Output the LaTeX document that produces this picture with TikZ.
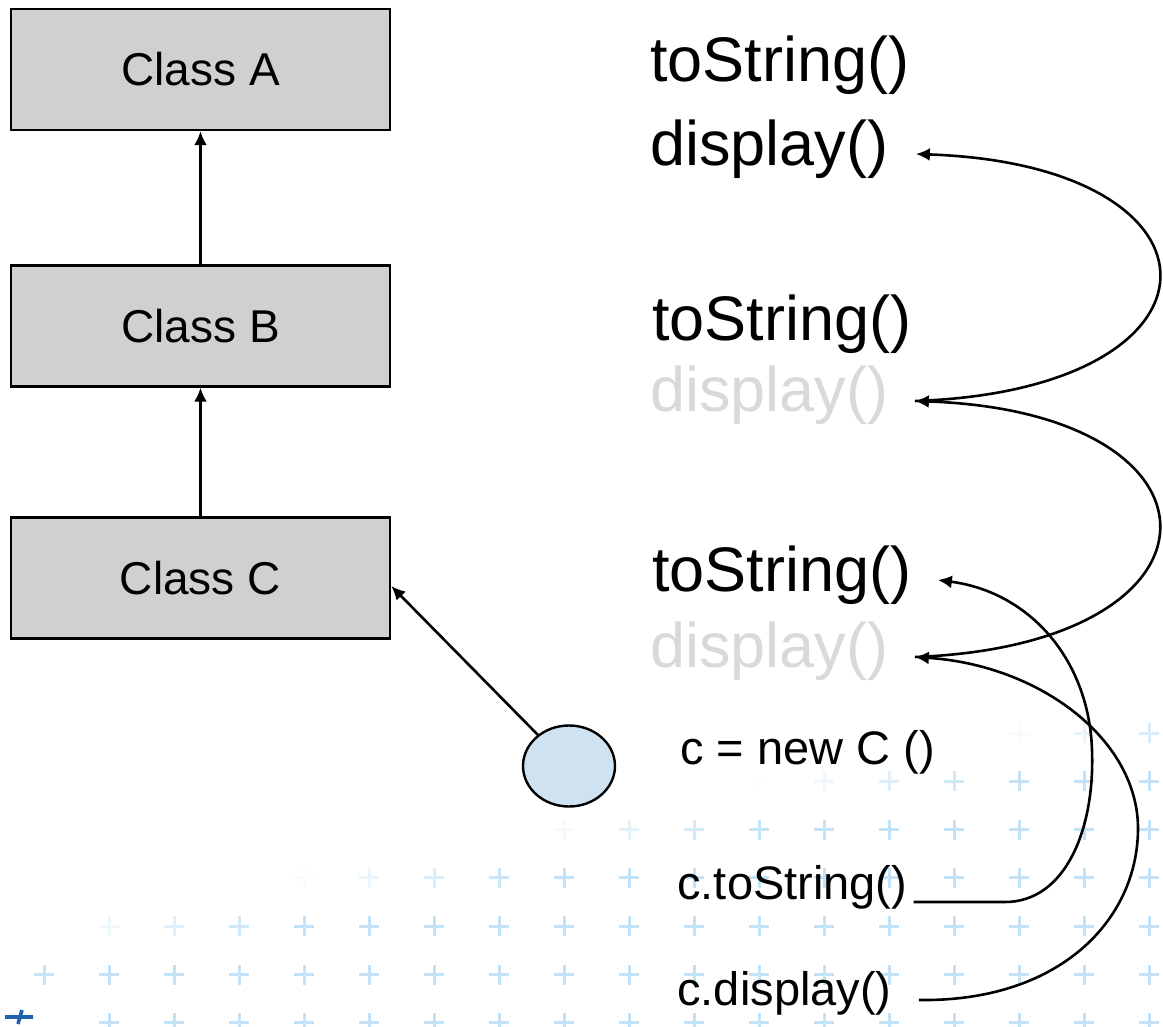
\documentclass[tikz,border=0pt]{standalone}
\usepackage{fontspec}
\setmainfont{Liberation Sans}
\usetikzlibrary{arrows.meta,shapes.geometric}
\definecolor{boxgray}{HTML}{D0D0D0}
\definecolor{objblue}{HTML}{CFE2F1}
\definecolor{fadegray}{HTML}{D9D9D9}
\definecolor{gridblue}{HTML}{C2E3F7}
\definecolor{markblue}{HTML}{1F62AE}
\begin{document}
\begin{tikzpicture}[x=0.5pt,y=-0.5pt,
  classbox/.style={draw=black, line width=1.2pt, fill=boxgray,
    minimum width=189.5pt, minimum height=60.5pt, inner sep=0pt,
    font=\fontsize{23}{27}\selectfont},
  method/.style={anchor=west, inner sep=0pt, text height=0.75em, text depth=0.21em,
    font=\fontsize{31.5}{36}\selectfont},
  call/.style={anchor=west, inner sep=0pt, text height=0.75em, text depth=0.21em,
    font=\fontsize{23.5}{28}\selectfont},
  link/.style={line width=1.3pt, -{Latex[length=7pt,width=6.5pt]}}]

\useasboundingbox (0,0) rectangle (1163,1027);
\fill[white] (0,0) rectangle (1163,1027);

% faded grid of light crosses in the lower right
\foreach \r in {0,...,6}{
  \foreach \c in {0,...,17}{
    \pgfmathsetmacro{\px}{44+65*\c}
    \pgfmathsetmacro{\py}{733+48.3*\r}
    \pgfmathsetmacro{\al}{and(\r==6,\c==0) ? 0 : max(0,min(1,(\px-515+4.9*(\py-830))/250))}
    \ifdim\al pt>0.01pt
      \draw[gridblue, line width=1.5pt, opacity=\al]
        (\px-10,\py) -- (\px+10,\py) (\px,\py-10) -- (\px,\py+10);
    \fi
  }
}
\draw[markblue, line width=1.8pt] (5,1017) -- (33,1017) (22,1010) -- (18,1024);

% class hierarchy
\node[classbox] (A) at (200.5,69.5) {Class A};
\node[classbox] (B) at (200.5,326) {Class B};
\node[classbox] (C) at (200.5,578) {Class C};
\node[ellipse, draw=black, line width=1.2pt, fill=objblue,
  minimum width=46pt, minimum height=40.5pt, inner sep=0pt] (obj) at (569,766) {};

\draw[link] (B.north) -- (A.south);
\draw[link] (C.north) -- (B.south);
\draw[link] (obj.135) -- ([yshift=-4pt]C.east);

% methods per class
\node[method] (ta) at (650,76) {toString()};
\node[method] (da) at (650,160) {display()};
\node[method] (tb) at (652,335) {toString()};
\node[method, text=fadegray] (db) at (650,406) {display()};
\node[method] (tc) at (652,586) {toString()};
\node[method, text=fadegray] (dc) at (650,662) {display()};

% calls on the object
\node[call] (new) at (680,759) {c = new C ()};
\node[call] (cts) at (677,894) {c.toString()};
\node[call] (cdi) at (677,1000) {c.display()};

% lookup chains
\draw[link] ([xshift=13pt,yshift=2.5pt]db.east) .. controls (1240,390) and (1240,165) .. ([xshift=13.5pt,yshift=3pt]da.east);
\draw[link] ([xshift=13pt,yshift=2.5pt]dc.east) .. controls (1240,645) and (1240,412) .. ([xshift=13pt,yshift=2.5pt]db.east);
\draw[link] ([xshift=3pt,yshift=-4pt]cts.east) -- (1005,902)
  .. controls (1065,902) and (1095,830) .. (1092,750)
  .. controls (1089,660) and (1030,592) .. ([xshift=13pt,yshift=3pt]tc.east);
\draw[link] ([xshift=13.5pt]cdi.east) .. controls (1060,1002) and (1137,920) .. (1138,830)
  .. controls (1139,740) and (1040,665) .. ([xshift=13pt,yshift=2.5pt]dc.east);
\end{tikzpicture}
\end{document}
